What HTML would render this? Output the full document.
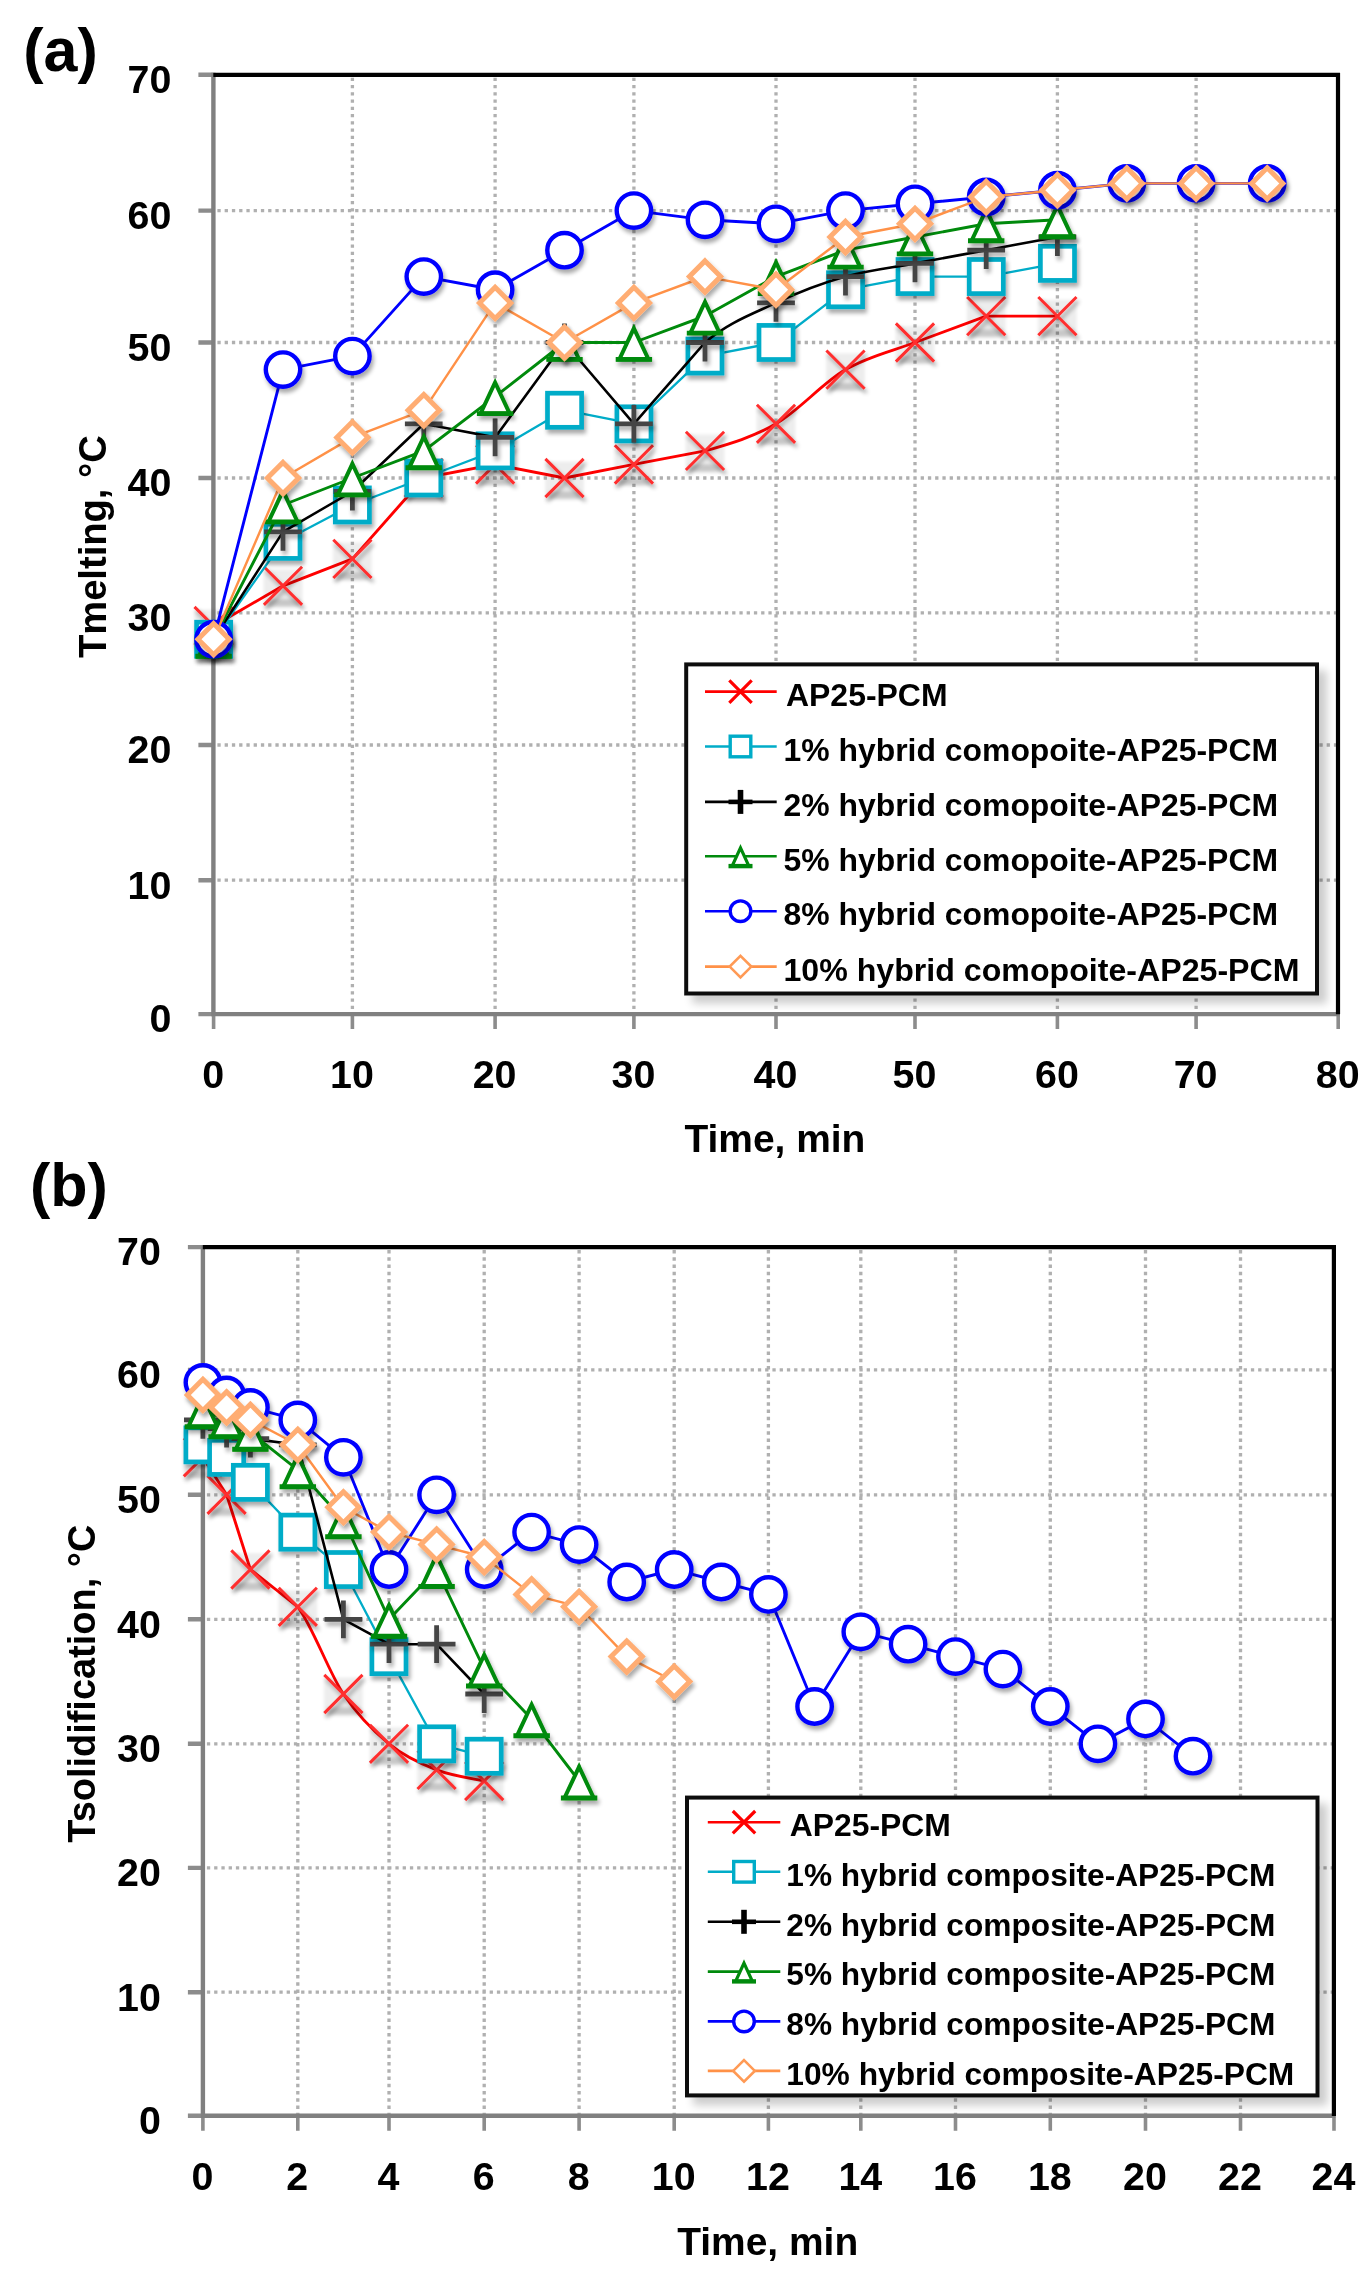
<!DOCTYPE html>
<html><head><meta charset="utf-8"><title>Tmelting and Tsolidification vs time</title>
<style>
html,body{margin:0;padding:0;background:#fff;}
body{width:1371px;height:2281px;overflow:hidden;font-family:"Liberation Sans", sans-serif;}
svg{display:block;}
text{font-family:"Liberation Sans", sans-serif;font-weight:bold;fill:#000;}
.tk{font-size:39.4px;}
.tt{font-size:39px;}
.lg{font-size:31.3px;}
.tag{font-size:61px;}
</style></head>
<body>
<svg width="1371" height="2281" viewBox="0 0 1371 2281">
<defs>
<filter id="msh" x="-5%" y="-5%" width="110%" height="110%" filterUnits="objectBoundingBox">
<feGaussianBlur in="SourceAlpha" stdDeviation="2" result="b"/>
<feOffset in="b" dx="1.5" dy="4.2" result="o"/>
<feComponentTransfer in="o" result="s"><feFuncA type="linear" slope="0.34"/></feComponentTransfer>
<feMerge><feMergeNode in="s"/><feMergeNode in="SourceGraphic"/></feMerge>
</filter>
<filter id="lsh" x="-5%" y="-5%" width="112%" height="115%">
<feGaussianBlur in="SourceAlpha" stdDeviation="4" result="b"/>
<feOffset in="b" dx="8" dy="8" result="o"/>
<feComponentTransfer in="o" result="s"><feFuncA type="linear" slope="0.2"/></feComponentTransfer>
<feMerge><feMergeNode in="s"/><feMergeNode in="SourceGraphic"/></feMerge>
</filter>
<filter id="blur2"><feGaussianBlur stdDeviation="1.8"/></filter>
<filter id="soft" filterUnits="userSpaceOnUse" x="0" y="0" width="1371" height="2281"><feGaussianBlur stdDeviation="0.6"/></filter>
</defs>
<rect width="1371" height="2281" fill="#fff"/>
<g filter="url(#soft)">
<rect width="1371" height="2281" fill="#fff"/>
<g id="chart-a">
<path d="M217.4 880.2H1338.0M217.4 745.0H1338.0M217.4 612.8H1338.0M217.4 478.0H1338.0M217.4 342.5H1338.0M217.4 210.6H1338.0M352.4 77.8V1014.1M495.1 77.8V1014.1M633.9 77.8V1014.1M776.0 77.8V1014.1M915.0 77.8V1014.1M1057.4 77.8V1014.1M1196.1 77.8V1014.1" stroke="#b0b0b0" stroke-width="3.3" stroke-dasharray="3.3 3.95" fill="none"/>
<path d="M198.4 1014.1H213.4M198.4 880.2H213.4M198.4 745.0H213.4M198.4 478.0H213.4M198.4 342.5H213.4M198.4 210.6H213.4M198.4 74.8H213.4" stroke="#8c8c8c" stroke-width="4.4" fill="none"/>
<path d="M213.6 1014.1V1029.1M352.4 1014.1V1029.1M495.1 1014.1V1029.1M633.9 1014.1V1029.1M776.0 1014.1V1029.1M915.0 1014.1V1029.1M1057.4 1014.1V1029.1M1196.1 1014.1V1029.1M1338.2 1014.1V1029.1" stroke="#8c8c8c" stroke-width="3.6" fill="none"/>
<path d="M213.4 72.8V1016.3M211.4 1014.1H1339.5" stroke="#808080" stroke-width="4.4" fill="none"/>
<path d="M215.4 74.8H1338.0V1012.1" stroke="#000" stroke-width="4.2" fill="none" stroke-linejoin="miter" stroke-linecap="square"/>
<text x="171.4" y="1032.4" text-anchor="end" class="tk">0</text>
<text x="171.4" y="898.5" text-anchor="end" class="tk">10</text>
<text x="171.4" y="763.3" text-anchor="end" class="tk">20</text>
<text x="171.4" y="631.1" text-anchor="end" class="tk">30</text>
<text x="171.4" y="496.3" text-anchor="end" class="tk">40</text>
<text x="171.4" y="360.8" text-anchor="end" class="tk">50</text>
<text x="171.4" y="228.9" text-anchor="end" class="tk">60</text>
<text x="171.4" y="93.1" text-anchor="end" class="tk">70</text>
<text x="213.1" y="1088.1" text-anchor="middle" class="tk">0</text>
<text x="351.9" y="1088.1" text-anchor="middle" class="tk">10</text>
<text x="494.6" y="1088.1" text-anchor="middle" class="tk">20</text>
<text x="633.4" y="1088.1" text-anchor="middle" class="tk">30</text>
<text x="775.5" y="1088.1" text-anchor="middle" class="tk">40</text>
<text x="914.5" y="1088.1" text-anchor="middle" class="tk">50</text>
<text x="1056.9" y="1088.1" text-anchor="middle" class="tk">60</text>
<text x="1195.6" y="1088.1" text-anchor="middle" class="tk">70</text>
<text x="1337.7" y="1088.1" text-anchor="middle" class="tk">80</text>
<path d="M213.6 626.0L283.0 585.8L352.4 558.9L423.8 478.0L495.1 464.4L564.5 478.0L633.9 464.4L705.0 450.9 M705.0 450.9C728.6 444.1 752.6 437.4 776.0 423.8C799.4 410.2 822.3 383.2 845.5 369.6C868.7 356.1 891.5 351.4 915.0 342.5 M915.0 342.5L986.2 316.1L1057.4 316.1" fill="none" stroke="#ff0000" stroke-width="2.9" stroke-linejoin="round"/>
<g filter="url(#blur2)"><rect x="194.2" y="609.6" width="38.8" height="38.8" fill="#000" opacity="0.07"/><rect x="197.2" y="639.4" width="32.8" height="7" fill="#000" opacity="0.16"/><rect x="263.6" y="569.4" width="38.8" height="38.8" fill="#000" opacity="0.07"/><rect x="266.6" y="599.2" width="32.8" height="7" fill="#000" opacity="0.16"/><rect x="333.0" y="542.5" width="38.8" height="38.8" fill="#000" opacity="0.07"/><rect x="336.0" y="572.3" width="32.8" height="7" fill="#000" opacity="0.16"/><rect x="404.4" y="461.6" width="38.8" height="38.8" fill="#000" opacity="0.07"/><rect x="407.4" y="491.4" width="32.8" height="7" fill="#000" opacity="0.16"/><rect x="475.7" y="448.1" width="38.8" height="38.8" fill="#000" opacity="0.07"/><rect x="478.7" y="477.8" width="32.8" height="7" fill="#000" opacity="0.16"/><rect x="545.1" y="461.6" width="38.8" height="38.8" fill="#000" opacity="0.07"/><rect x="548.1" y="491.4" width="32.8" height="7" fill="#000" opacity="0.16"/><rect x="614.5" y="448.1" width="38.8" height="38.8" fill="#000" opacity="0.07"/><rect x="617.5" y="477.8" width="32.8" height="7" fill="#000" opacity="0.16"/><rect x="685.6" y="434.5" width="38.8" height="38.8" fill="#000" opacity="0.07"/><rect x="688.6" y="464.3" width="32.8" height="7" fill="#000" opacity="0.16"/><rect x="756.6" y="407.4" width="38.8" height="38.8" fill="#000" opacity="0.07"/><rect x="759.6" y="437.2" width="32.8" height="7" fill="#000" opacity="0.16"/><rect x="826.1" y="353.2" width="38.8" height="38.8" fill="#000" opacity="0.07"/><rect x="829.1" y="383.0" width="32.8" height="7" fill="#000" opacity="0.16"/><rect x="895.6" y="326.1" width="38.8" height="38.8" fill="#000" opacity="0.07"/><rect x="898.6" y="355.9" width="32.8" height="7" fill="#000" opacity="0.16"/><rect x="966.8" y="299.7" width="38.8" height="38.8" fill="#000" opacity="0.07"/><rect x="969.8" y="329.5" width="32.8" height="7" fill="#000" opacity="0.16"/><rect x="1038.0" y="299.7" width="38.8" height="38.8" fill="#000" opacity="0.07"/><rect x="1041.0" y="329.5" width="32.8" height="7" fill="#000" opacity="0.16"/></g>
<g filter="url(#msh)"><path d="M194.5 606.9L232.7 645.1M194.5 645.1L232.7 606.9" fill="none" stroke="#ff2e2e" stroke-width="3.00"/><path d="M263.9 566.7L302.1 604.9M263.9 604.9L302.1 566.7" fill="none" stroke="#ff2e2e" stroke-width="3.00"/><path d="M333.3 539.8L371.5 578.0M333.3 578.0L371.5 539.8" fill="none" stroke="#ff2e2e" stroke-width="3.00"/><path d="M404.6 458.9L442.9 497.1M404.6 497.1L442.9 458.9" fill="none" stroke="#ff2e2e" stroke-width="3.00"/><path d="M476.0 445.3L514.2 483.6M476.0 483.6L514.2 445.3" fill="none" stroke="#ff2e2e" stroke-width="3.00"/><path d="M545.4 458.9L583.6 497.1M545.4 497.1L583.6 458.9" fill="none" stroke="#ff2e2e" stroke-width="3.00"/><path d="M614.8 445.3L653.0 483.6M614.8 483.6L653.0 445.3" fill="none" stroke="#ff2e2e" stroke-width="3.00"/><path d="M685.9 431.8L724.1 470.0M685.9 470.0L724.1 431.8" fill="none" stroke="#ff2e2e" stroke-width="3.00"/><path d="M756.9 404.7L795.1 442.9M756.9 442.9L795.1 404.7" fill="none" stroke="#ff2e2e" stroke-width="3.00"/><path d="M826.4 350.5L864.6 388.7M826.4 388.7L864.6 350.5" fill="none" stroke="#ff2e2e" stroke-width="3.00"/><path d="M895.9 323.4L934.1 361.6M895.9 361.6L934.1 323.4" fill="none" stroke="#ff2e2e" stroke-width="3.00"/><path d="M967.1 297.0L1005.3 335.2M967.1 335.2L1005.3 297.0" fill="none" stroke="#ff2e2e" stroke-width="3.00"/><path d="M1038.3 297.0L1076.5 335.2M1038.3 335.2L1076.5 297.0" fill="none" stroke="#ff2e2e" stroke-width="3.00"/></g>
<path d="M213.6 639.2L283.0 541.4L352.4 505.0L423.8 478.0L495.1 450.9L564.5 410.2L633.9 423.8L705.0 356.1L776.0 342.5L845.5 289.7L915.0 276.6L986.2 276.6L1057.4 263.4" fill="none" stroke="#00acc8" stroke-width="2.3" stroke-linejoin="round"/>
<g filter="url(#msh)"><rect x="196.6" y="622.2" width="34.1" height="34.1" fill="#fff" stroke="#00acc8" stroke-width="4.70"/><rect x="265.9" y="524.3" width="34.1" height="34.1" fill="#fff" stroke="#00acc8" stroke-width="4.70"/><rect x="335.3" y="487.9" width="34.1" height="34.1" fill="#fff" stroke="#00acc8" stroke-width="4.70"/><rect x="406.7" y="460.9" width="34.1" height="34.1" fill="#fff" stroke="#00acc8" stroke-width="4.70"/><rect x="478.1" y="433.8" width="34.1" height="34.1" fill="#fff" stroke="#00acc8" stroke-width="4.70"/><rect x="547.5" y="393.2" width="34.1" height="34.1" fill="#fff" stroke="#00acc8" stroke-width="4.70"/><rect x="616.9" y="406.8" width="34.1" height="34.1" fill="#fff" stroke="#00acc8" stroke-width="4.70"/><rect x="687.9" y="339.0" width="34.1" height="34.1" fill="#fff" stroke="#00acc8" stroke-width="4.70"/><rect x="759.0" y="325.4" width="34.1" height="34.1" fill="#fff" stroke="#00acc8" stroke-width="4.70"/><rect x="828.5" y="272.7" width="34.1" height="34.1" fill="#fff" stroke="#00acc8" stroke-width="4.70"/><rect x="898.0" y="259.5" width="34.1" height="34.1" fill="#fff" stroke="#00acc8" stroke-width="4.70"/><rect x="969.2" y="259.5" width="34.1" height="34.1" fill="#fff" stroke="#00acc8" stroke-width="4.70"/><rect x="1040.4" y="246.3" width="34.1" height="34.1" fill="#fff" stroke="#00acc8" stroke-width="4.70"/></g>
<path d="M213.6 639.2L283.0 531.9L352.4 491.5L423.8 423.8L495.1 437.4L564.5 342.5L633.9 423.8L705.0 342.5 M705.0 342.5C728.6 322.4 752.6 313.9 776.0 302.9C799.4 291.9 822.3 283.1 845.5 276.6C868.7 270.0 891.5 267.8 915.0 263.4C938.5 259.0 962.5 254.6 986.2 250.2C1009.9 245.8 1045.5 239.2 1057.4 237.0" fill="none" stroke="#000000" stroke-width="2.6" stroke-linejoin="round"/>
<g filter="url(#msh)"><path d="M194.7 639.2L232.5 639.2M213.6 620.3L213.6 658.1" fill="none" stroke="#454545" stroke-width="4.80"/><path d="M264.1 531.9L301.9 531.9M283.0 513.0L283.0 550.8" fill="none" stroke="#454545" stroke-width="4.80"/><path d="M333.5 491.5L371.3 491.5M352.4 472.6L352.4 510.4" fill="none" stroke="#454545" stroke-width="4.80"/><path d="M404.9 423.8L442.6 423.8M423.8 404.9L423.8 442.7" fill="none" stroke="#454545" stroke-width="4.80"/><path d="M476.2 437.4L514.0 437.4M495.1 418.5L495.1 456.2" fill="none" stroke="#454545" stroke-width="4.80"/><path d="M545.6 342.5L583.4 342.5M564.5 323.6L564.5 361.4" fill="none" stroke="#454545" stroke-width="4.80"/><path d="M615.0 423.8L652.8 423.8M633.9 404.9L633.9 442.7" fill="none" stroke="#454545" stroke-width="4.80"/><path d="M686.1 342.5L723.9 342.5M705.0 323.6L705.0 361.4" fill="none" stroke="#454545" stroke-width="4.80"/><path d="M757.1 302.9L794.9 302.9M776.0 284.0L776.0 321.8" fill="none" stroke="#454545" stroke-width="4.80"/><path d="M826.6 276.6L864.4 276.6M845.5 257.7L845.5 295.4" fill="none" stroke="#454545" stroke-width="4.80"/><path d="M896.1 263.4L933.9 263.4M915.0 244.5L915.0 282.3" fill="none" stroke="#454545" stroke-width="4.80"/><path d="M967.3 250.2L1005.1 250.2M986.2 231.3L986.2 269.1" fill="none" stroke="#454545" stroke-width="4.80"/><path d="M1038.5 237.0L1076.3 237.0M1057.4 218.1L1057.4 255.9" fill="none" stroke="#454545" stroke-width="4.80"/></g>
<path d="M213.6 639.2L283.0 505.0L352.4 478.0L423.8 450.9L495.1 396.7L564.5 342.5L633.9 342.5L705.0 316.1L776.0 276.6L845.5 250.2L915.0 237.0L986.2 223.8L1057.4 219.8" fill="none" stroke="#008a08" stroke-width="2.9" stroke-linejoin="round"/>
<g filter="url(#msh)"><path d="M213.6 625.0L228.2 656.2L199.0 656.2Z" fill="#fff" stroke="#008a08" stroke-width="4.00" stroke-linejoin="miter"/><path d="M195.4 656.2H231.8" stroke="#008a08" stroke-width="4.90" fill="none"/><path d="M283.0 490.8L297.6 521.9L268.4 521.9Z" fill="#fff" stroke="#008a08" stroke-width="4.00" stroke-linejoin="miter"/><path d="M264.8 521.9H301.2" stroke="#008a08" stroke-width="4.90" fill="none"/><path d="M352.4 463.8L367.0 494.9L337.8 494.9Z" fill="#fff" stroke="#008a08" stroke-width="4.00" stroke-linejoin="miter"/><path d="M334.2 494.9H370.6" stroke="#008a08" stroke-width="4.90" fill="none"/><path d="M423.8 436.7L438.3 467.8L409.2 467.8Z" fill="#fff" stroke="#008a08" stroke-width="4.00" stroke-linejoin="miter"/><path d="M405.6 467.8H441.9" stroke="#008a08" stroke-width="4.90" fill="none"/><path d="M495.1 382.5L509.7 413.6L480.5 413.6Z" fill="#fff" stroke="#008a08" stroke-width="4.00" stroke-linejoin="miter"/><path d="M476.9 413.6H513.3" stroke="#008a08" stroke-width="4.90" fill="none"/><path d="M564.5 328.3L579.1 359.4L549.9 359.4Z" fill="#fff" stroke="#008a08" stroke-width="4.00" stroke-linejoin="miter"/><path d="M546.3 359.4H582.7" stroke="#008a08" stroke-width="4.90" fill="none"/><path d="M633.9 328.3L648.5 359.4L619.3 359.4Z" fill="#fff" stroke="#008a08" stroke-width="4.00" stroke-linejoin="miter"/><path d="M615.7 359.4H652.1" stroke="#008a08" stroke-width="4.90" fill="none"/><path d="M705.0 301.9L719.6 333.1L690.4 333.1Z" fill="#fff" stroke="#008a08" stroke-width="4.00" stroke-linejoin="miter"/><path d="M686.8 333.1H723.2" stroke="#008a08" stroke-width="4.90" fill="none"/><path d="M776.0 262.4L790.6 293.5L761.4 293.5Z" fill="#fff" stroke="#008a08" stroke-width="4.00" stroke-linejoin="miter"/><path d="M757.8 293.5H794.2" stroke="#008a08" stroke-width="4.90" fill="none"/><path d="M845.5 236.0L860.1 267.1L830.9 267.1Z" fill="#fff" stroke="#008a08" stroke-width="4.00" stroke-linejoin="miter"/><path d="M827.3 267.1H863.7" stroke="#008a08" stroke-width="4.90" fill="none"/><path d="M915.0 222.8L929.6 253.9L900.4 253.9Z" fill="#fff" stroke="#008a08" stroke-width="4.00" stroke-linejoin="miter"/><path d="M896.8 253.9H933.2" stroke="#008a08" stroke-width="4.90" fill="none"/><path d="M986.2 209.6L1000.8 240.7L971.6 240.7Z" fill="#fff" stroke="#008a08" stroke-width="4.00" stroke-linejoin="miter"/><path d="M968.0 240.7H1004.4" stroke="#008a08" stroke-width="4.90" fill="none"/><path d="M1057.4 205.6L1072.0 236.8L1042.8 236.8Z" fill="#fff" stroke="#008a08" stroke-width="4.00" stroke-linejoin="miter"/><path d="M1039.2 236.8H1075.6" stroke="#008a08" stroke-width="4.90" fill="none"/></g>
<path d="M213.6 639.2L283.0 369.6L352.4 356.1L423.8 276.6L495.1 289.7L564.5 250.2L633.9 210.6L705.0 219.8L776.0 223.8L845.5 210.6L915.0 203.8L986.2 197.0L1057.4 190.2L1126.8 183.4L1196.1 183.4L1267.2 183.4" fill="none" stroke="#0000ff" stroke-width="2.9" stroke-linejoin="round"/>
<g filter="url(#msh)"><circle cx="213.6" cy="639.2" r="17.20" fill="#fff" stroke="#0000ff" stroke-width="4.40"/><circle cx="283.0" cy="369.6" r="17.20" fill="#fff" stroke="#0000ff" stroke-width="4.40"/><circle cx="352.4" cy="356.1" r="17.20" fill="#fff" stroke="#0000ff" stroke-width="4.40"/><circle cx="423.8" cy="276.6" r="17.20" fill="#fff" stroke="#0000ff" stroke-width="4.40"/><circle cx="495.1" cy="289.7" r="17.20" fill="#fff" stroke="#0000ff" stroke-width="4.40"/><circle cx="564.5" cy="250.2" r="17.20" fill="#fff" stroke="#0000ff" stroke-width="4.40"/><circle cx="633.9" cy="210.6" r="17.20" fill="#fff" stroke="#0000ff" stroke-width="4.40"/><circle cx="705.0" cy="219.8" r="17.20" fill="#fff" stroke="#0000ff" stroke-width="4.40"/><circle cx="776.0" cy="223.8" r="17.20" fill="#fff" stroke="#0000ff" stroke-width="4.40"/><circle cx="845.5" cy="210.6" r="17.20" fill="#fff" stroke="#0000ff" stroke-width="4.40"/><circle cx="915.0" cy="203.8" r="17.20" fill="#fff" stroke="#0000ff" stroke-width="4.40"/><circle cx="986.2" cy="197.0" r="17.20" fill="#fff" stroke="#0000ff" stroke-width="4.40"/><circle cx="1057.4" cy="190.2" r="17.20" fill="#fff" stroke="#0000ff" stroke-width="4.40"/><circle cx="1126.8" cy="183.4" r="17.20" fill="#fff" stroke="#0000ff" stroke-width="4.40"/><circle cx="1196.1" cy="183.4" r="17.20" fill="#fff" stroke="#0000ff" stroke-width="4.40"/><circle cx="1267.2" cy="183.4" r="17.20" fill="#fff" stroke="#0000ff" stroke-width="4.40"/></g>
<path d="M213.6 639.2L283.0 478.0L352.4 437.4L423.8 410.2L495.1 302.9L564.5 342.5L633.9 302.9L705.0 276.6L776.0 289.7L845.5 237.0L915.0 223.8L986.2 197.0L1057.4 190.2L1126.8 183.4L1196.1 183.4L1267.2 183.4" fill="none" stroke="#ff9147" stroke-width="2.4" stroke-linejoin="round"/>
<g filter="url(#msh)"><path d="M213.6 623.6L229.2 639.2L213.6 654.8L198.0 639.2Z" fill="#fff" stroke="#ffad73" stroke-width="5.00" stroke-linejoin="miter"/><path d="M283.0 462.4L298.6 478.0L283.0 493.6L267.4 478.0Z" fill="#fff" stroke="#ffad73" stroke-width="5.00" stroke-linejoin="miter"/><path d="M352.4 421.8L368.0 437.4L352.4 453.0L336.8 437.4Z" fill="#fff" stroke="#ffad73" stroke-width="5.00" stroke-linejoin="miter"/><path d="M423.8 394.6L439.4 410.2L423.8 425.9L408.1 410.2Z" fill="#fff" stroke="#ffad73" stroke-width="5.00" stroke-linejoin="miter"/><path d="M495.1 287.3L510.7 302.9L495.1 318.5L479.5 302.9Z" fill="#fff" stroke="#ffad73" stroke-width="5.00" stroke-linejoin="miter"/><path d="M564.5 326.9L580.1 342.5L564.5 358.1L548.9 342.5Z" fill="#fff" stroke="#ffad73" stroke-width="5.00" stroke-linejoin="miter"/><path d="M633.9 287.3L649.5 302.9L633.9 318.5L618.3 302.9Z" fill="#fff" stroke="#ffad73" stroke-width="5.00" stroke-linejoin="miter"/><path d="M705.0 260.9L720.6 276.6L705.0 292.2L689.4 276.6Z" fill="#fff" stroke="#ffad73" stroke-width="5.00" stroke-linejoin="miter"/><path d="M776.0 274.1L791.6 289.7L776.0 305.3L760.4 289.7Z" fill="#fff" stroke="#ffad73" stroke-width="5.00" stroke-linejoin="miter"/><path d="M845.5 221.4L861.1 237.0L845.5 252.6L829.9 237.0Z" fill="#fff" stroke="#ffad73" stroke-width="5.00" stroke-linejoin="miter"/><path d="M915.0 208.2L930.6 223.8L915.0 239.4L899.4 223.8Z" fill="#fff" stroke="#ffad73" stroke-width="5.00" stroke-linejoin="miter"/><path d="M986.2 181.4L1001.8 197.0L986.2 212.6L970.6 197.0Z" fill="#fff" stroke="#ffad73" stroke-width="5.00" stroke-linejoin="miter"/><path d="M1057.4 174.6L1073.0 190.2L1057.4 205.8L1041.8 190.2Z" fill="#fff" stroke="#ffad73" stroke-width="5.00" stroke-linejoin="miter"/><path d="M1126.8 167.8L1142.3 183.4L1126.8 199.0L1111.2 183.4Z" fill="#fff" stroke="#ffad73" stroke-width="5.00" stroke-linejoin="miter"/><path d="M1196.1 167.8L1211.7 183.4L1196.1 199.0L1180.5 183.4Z" fill="#fff" stroke="#ffad73" stroke-width="5.00" stroke-linejoin="miter"/><path d="M1267.2 167.8L1282.8 183.4L1267.2 199.0L1251.6 183.4Z" fill="#fff" stroke="#ffad73" stroke-width="5.00" stroke-linejoin="miter"/></g>
<rect x="686.2" y="664.4" width="630.8" height="329.1" fill="#fff" stroke="#111" stroke-width="4" filter="url(#lsh)"/>
<path d="M705.0 691.6H776.7" stroke="#ff0000" stroke-width="2.6" fill="none"/>
<path d="M729.3 680.4L751.7 702.8M729.3 702.8L751.7 680.4" fill="none" stroke="#ff0000" stroke-width="3.2"/>
<text x="786.0" y="705.8" class="lg" textLength="161.5" lengthAdjust="spacingAndGlyphs">AP25-PCM</text>
<path d="M705.0 746.5H776.7" stroke="#00acc8" stroke-width="2.6" fill="none"/>
<rect x="730.2" y="736.2" width="20.6" height="20.6" fill="#fff" stroke="#00acc8" stroke-width="3.4"/>
<text x="783.5" y="760.7" class="lg" textLength="494.5" lengthAdjust="spacingAndGlyphs">1% hybrid comopoite-AP25-PCM</text>
<path d="M705.0 801.9H776.7" stroke="#000000" stroke-width="2.6" fill="none"/>
<path d="M728.5 801.9H752.5" fill="none" stroke="#000000" stroke-width="4.6"/><path d="M740.5 789.9V813.9" fill="none" stroke="#000000" stroke-width="5.6"/>
<text x="783.5" y="816.1" class="lg" textLength="494.5" lengthAdjust="spacingAndGlyphs">2% hybrid comopoite-AP25-PCM</text>
<path d="M705.0 856.3H776.7" stroke="#008a08" stroke-width="2.6" fill="none"/>
<path d="M740.5 847.8L748.9 866.1L732.1 866.1Z" fill="#fff" stroke="#008a08" stroke-width="3.2" stroke-linejoin="miter"/><path d="M728.5 866.1H752.5" stroke="#008a08" stroke-width="4.4" fill="none"/>
<text x="783.5" y="870.5" class="lg" textLength="494.5" lengthAdjust="spacingAndGlyphs">5% hybrid comopoite-AP25-PCM</text>
<path d="M705.0 911.2H776.7" stroke="#0000ff" stroke-width="2.6" fill="none"/>
<circle cx="740.5" cy="911.2" r="10.30" fill="#fff" stroke="#0000ff" stroke-width="3.4"/>
<text x="783.5" y="925.4" class="lg" textLength="494.5" lengthAdjust="spacingAndGlyphs">8% hybrid comopoite-AP25-PCM</text>
<path d="M705.0 966.6H776.7" stroke="#ff9147" stroke-width="2.6" fill="none"/>
<path d="M740.5 955.8L751.3 966.6L740.5 977.4L729.7 966.6Z" fill="#fff" stroke="#ff9a55" stroke-width="2.6"/>
<text x="783.5" y="980.8" class="lg" textLength="516.0" lengthAdjust="spacingAndGlyphs">10% hybrid comopoite-AP25-PCM</text>
<text x="684.4" y="1151.5" class="tt" textLength="181" lengthAdjust="spacingAndGlyphs">Time, min</text>
<text transform="translate(105.6 546.6) rotate(-90)" text-anchor="middle" class="tt" textLength="223" lengthAdjust="spacingAndGlyphs">Tmelting, °C</text>
<text x="23.2" y="71.0" class="tag">(a)</text>
</g>
<g id="chart-b">
<path d="M206.9 1992.2H1333.9M206.9 1867.9H1333.9M206.9 1743.8H1333.9M206.9 1619.3H1333.9M206.9 1494.8H1333.9M206.9 1369.9H1333.9M297.8 1250.1V2115.8M389.0 1250.1V2115.8M484.2 1250.1V2115.8M579.1 1250.1V2115.8M674.2 1250.1V2115.8M768.4 1250.1V2115.8M860.8 1250.1V2115.8M955.5 1250.1V2115.8M1050.3 1250.1V2115.8M1145.5 1250.1V2115.8M1240.5 1250.1V2115.8" stroke="#b0b0b0" stroke-width="3.3" stroke-dasharray="3.3 3.95" fill="none"/>
<path d="M187.9 2115.8H202.9M187.9 1992.2H202.9M187.9 1867.9H202.9M187.9 1743.8H202.9M187.9 1619.3H202.9M187.9 1494.8H202.9M187.9 1369.9H202.9M187.9 1247.1H202.9" stroke="#8c8c8c" stroke-width="4.4" fill="none"/>
<path d="M202.9 2115.8V2130.8M297.8 2115.8V2130.8M389.0 2115.8V2130.8M484.2 2115.8V2130.8M579.1 2115.8V2130.8M674.2 2115.8V2130.8M768.4 2115.8V2130.8M860.8 2115.8V2130.8M955.5 2115.8V2130.8M1050.3 2115.8V2130.8M1145.5 2115.8V2130.8M1240.5 2115.8V2130.8M1334.0 2115.8V2130.8" stroke="#8c8c8c" stroke-width="3.6" fill="none"/>
<path d="M202.9 1245.1V2118.0M200.9 2115.8H1335.4" stroke="#808080" stroke-width="4.4" fill="none"/>
<path d="M204.9 1247.1H1333.9V2113.8" stroke="#000" stroke-width="4.2" fill="none" stroke-linejoin="miter" stroke-linecap="square"/>
<text x="160.9" y="2134.1" text-anchor="end" class="tk">0</text>
<text x="160.9" y="2010.5" text-anchor="end" class="tk">10</text>
<text x="160.9" y="1886.2" text-anchor="end" class="tk">20</text>
<text x="160.9" y="1762.1" text-anchor="end" class="tk">30</text>
<text x="160.9" y="1637.6" text-anchor="end" class="tk">40</text>
<text x="160.9" y="1513.1" text-anchor="end" class="tk">50</text>
<text x="160.9" y="1388.2" text-anchor="end" class="tk">60</text>
<text x="160.9" y="1265.4" text-anchor="end" class="tk">70</text>
<text x="202.4" y="2189.8" text-anchor="middle" class="tk">0</text>
<text x="297.3" y="2189.8" text-anchor="middle" class="tk">2</text>
<text x="388.5" y="2189.8" text-anchor="middle" class="tk">4</text>
<text x="483.7" y="2189.8" text-anchor="middle" class="tk">6</text>
<text x="578.6" y="2189.8" text-anchor="middle" class="tk">8</text>
<text x="673.7" y="2189.8" text-anchor="middle" class="tk">10</text>
<text x="767.9" y="2189.8" text-anchor="middle" class="tk">12</text>
<text x="860.3" y="2189.8" text-anchor="middle" class="tk">14</text>
<text x="955.0" y="2189.8" text-anchor="middle" class="tk">16</text>
<text x="1049.8" y="2189.8" text-anchor="middle" class="tk">18</text>
<text x="1145.0" y="2189.8" text-anchor="middle" class="tk">20</text>
<text x="1240.0" y="2189.8" text-anchor="middle" class="tk">22</text>
<text x="1333.5" y="2189.8" text-anchor="middle" class="tk">24</text>
<path d="M202.9 1457.3L226.6 1494.8L250.4 1569.5L297.8 1606.8 M297.8 1606.8C313.3 1627.6 328.2 1671.2 343.4 1694.0C358.6 1716.8 373.5 1731.2 389.0 1743.8C404.5 1756.4 420.7 1763.7 436.6 1769.9C452.5 1776.1 476.3 1779.2 484.2 1781.0" fill="none" stroke="#ff0000" stroke-width="2.9" stroke-linejoin="round"/>
<g filter="url(#blur2)"><rect x="183.5" y="1440.9" width="38.8" height="38.8" fill="#000" opacity="0.07"/><rect x="186.5" y="1470.7" width="32.8" height="7" fill="#000" opacity="0.16"/><rect x="207.2" y="1478.4" width="38.8" height="38.8" fill="#000" opacity="0.07"/><rect x="210.2" y="1508.2" width="32.8" height="7" fill="#000" opacity="0.16"/><rect x="231.0" y="1553.1" width="38.8" height="38.8" fill="#000" opacity="0.07"/><rect x="234.0" y="1582.9" width="32.8" height="7" fill="#000" opacity="0.16"/><rect x="278.4" y="1590.4" width="38.8" height="38.8" fill="#000" opacity="0.07"/><rect x="281.4" y="1620.2" width="32.8" height="7" fill="#000" opacity="0.16"/><rect x="324.0" y="1677.6" width="38.8" height="38.8" fill="#000" opacity="0.07"/><rect x="327.0" y="1707.4" width="32.8" height="7" fill="#000" opacity="0.16"/><rect x="369.6" y="1727.4" width="38.8" height="38.8" fill="#000" opacity="0.07"/><rect x="372.6" y="1757.2" width="32.8" height="7" fill="#000" opacity="0.16"/><rect x="417.2" y="1753.5" width="38.8" height="38.8" fill="#000" opacity="0.07"/><rect x="420.2" y="1783.3" width="32.8" height="7" fill="#000" opacity="0.16"/><rect x="464.8" y="1764.6" width="38.8" height="38.8" fill="#000" opacity="0.07"/><rect x="467.8" y="1794.4" width="32.8" height="7" fill="#000" opacity="0.16"/></g>
<g filter="url(#msh)"><path d="M183.8 1438.2L222.0 1476.4M183.8 1476.4L222.0 1438.2" fill="none" stroke="#ff2e2e" stroke-width="3.00"/><path d="M207.5 1475.7L245.7 1513.9M207.5 1513.9L245.7 1475.7" fill="none" stroke="#ff2e2e" stroke-width="3.00"/><path d="M231.3 1550.4L269.5 1588.6M231.3 1588.6L269.5 1550.4" fill="none" stroke="#ff2e2e" stroke-width="3.00"/><path d="M278.7 1587.8L316.9 1625.9M278.7 1625.9L316.9 1587.8" fill="none" stroke="#ff2e2e" stroke-width="3.00"/><path d="M324.3 1674.9L362.5 1713.1M324.3 1713.1L362.5 1674.9" fill="none" stroke="#ff2e2e" stroke-width="3.00"/><path d="M369.9 1724.7L408.1 1762.9M369.9 1762.9L408.1 1724.7" fill="none" stroke="#ff2e2e" stroke-width="3.00"/><path d="M417.5 1750.8L455.7 1789.0M417.5 1789.0L455.7 1750.8" fill="none" stroke="#ff2e2e" stroke-width="3.00"/><path d="M465.1 1761.9L503.3 1800.1M465.1 1800.1L503.3 1761.9" fill="none" stroke="#ff2e2e" stroke-width="3.00"/></g>
<path d="M202.9 1444.8L226.6 1457.3L250.4 1482.3L297.8 1532.1L343.4 1569.5L389.0 1656.6L436.6 1743.8L484.2 1756.2" fill="none" stroke="#00acc8" stroke-width="2.3" stroke-linejoin="round"/>
<g filter="url(#msh)"><rect x="185.9" y="1427.8" width="34.1" height="34.1" fill="#fff" stroke="#00acc8" stroke-width="4.70"/><rect x="209.6" y="1440.3" width="34.1" height="34.1" fill="#fff" stroke="#00acc8" stroke-width="4.70"/><rect x="233.3" y="1465.3" width="34.1" height="34.1" fill="#fff" stroke="#00acc8" stroke-width="4.70"/><rect x="280.8" y="1515.1" width="34.1" height="34.1" fill="#fff" stroke="#00acc8" stroke-width="4.70"/><rect x="326.3" y="1552.5" width="34.1" height="34.1" fill="#fff" stroke="#00acc8" stroke-width="4.70"/><rect x="371.9" y="1639.6" width="34.1" height="34.1" fill="#fff" stroke="#00acc8" stroke-width="4.70"/><rect x="419.6" y="1726.8" width="34.1" height="34.1" fill="#fff" stroke="#00acc8" stroke-width="4.70"/><rect x="467.1" y="1739.2" width="34.1" height="34.1" fill="#fff" stroke="#00acc8" stroke-width="4.70"/></g>
<path d="M202.9 1419.9L226.6 1428.6L250.4 1438.6L297.8 1444.8L343.4 1619.3L389.0 1644.2L436.6 1644.2L484.2 1694.0" fill="none" stroke="#000000" stroke-width="2.6" stroke-linejoin="round"/>
<g filter="url(#msh)"><path d="M184.0 1419.9L221.8 1419.9M202.9 1401.0L202.9 1438.8" fill="none" stroke="#454545" stroke-width="4.80"/><path d="M207.7 1428.6L245.5 1428.6M226.6 1409.7L226.6 1447.5" fill="none" stroke="#454545" stroke-width="4.80"/><path d="M231.5 1438.6L269.2 1438.6M250.4 1419.7L250.4 1457.5" fill="none" stroke="#454545" stroke-width="4.80"/><path d="M278.9 1444.8L316.7 1444.8M297.8 1425.9L297.8 1463.7" fill="none" stroke="#454545" stroke-width="4.80"/><path d="M324.5 1619.3L362.3 1619.3M343.4 1600.4L343.4 1638.2" fill="none" stroke="#454545" stroke-width="4.80"/><path d="M370.1 1644.2L407.9 1644.2M389.0 1625.3L389.0 1663.1" fill="none" stroke="#454545" stroke-width="4.80"/><path d="M417.7 1644.2L455.5 1644.2M436.6 1625.3L436.6 1663.1" fill="none" stroke="#454545" stroke-width="4.80"/><path d="M465.3 1694.0L503.1 1694.0M484.2 1675.1L484.2 1712.9" fill="none" stroke="#454545" stroke-width="4.80"/></g>
<path d="M202.9 1409.9L226.6 1419.9L250.4 1432.3L297.8 1469.8L343.4 1519.7L389.0 1619.3L436.6 1569.5L484.2 1669.1L531.6 1718.9L579.1 1781.0" fill="none" stroke="#008a08" stroke-width="2.9" stroke-linejoin="round"/>
<g filter="url(#msh)"><path d="M202.9 1395.7L217.5 1426.8L188.3 1426.8Z" fill="#fff" stroke="#008a08" stroke-width="4.00" stroke-linejoin="miter"/><path d="M184.7 1426.8H221.1" stroke="#008a08" stroke-width="4.90" fill="none"/><path d="M226.6 1405.7L241.2 1436.8L212.0 1436.8Z" fill="#fff" stroke="#008a08" stroke-width="4.00" stroke-linejoin="miter"/><path d="M208.4 1436.8H244.8" stroke="#008a08" stroke-width="4.90" fill="none"/><path d="M250.4 1418.1L264.9 1449.3L235.8 1449.3Z" fill="#fff" stroke="#008a08" stroke-width="4.00" stroke-linejoin="miter"/><path d="M232.2 1449.3H268.6" stroke="#008a08" stroke-width="4.90" fill="none"/><path d="M297.8 1455.6L312.4 1486.8L283.2 1486.8Z" fill="#fff" stroke="#008a08" stroke-width="4.00" stroke-linejoin="miter"/><path d="M279.6 1486.8H316.0" stroke="#008a08" stroke-width="4.90" fill="none"/><path d="M343.4 1505.5L358.0 1536.7L328.8 1536.7Z" fill="#fff" stroke="#008a08" stroke-width="4.00" stroke-linejoin="miter"/><path d="M325.2 1536.7H361.6" stroke="#008a08" stroke-width="4.90" fill="none"/><path d="M389.0 1605.1L403.6 1636.2L374.4 1636.2Z" fill="#fff" stroke="#008a08" stroke-width="4.00" stroke-linejoin="miter"/><path d="M370.8 1636.2H407.2" stroke="#008a08" stroke-width="4.90" fill="none"/><path d="M436.6 1555.3L451.2 1586.5L422.0 1586.5Z" fill="#fff" stroke="#008a08" stroke-width="4.00" stroke-linejoin="miter"/><path d="M418.4 1586.5H454.8" stroke="#008a08" stroke-width="4.90" fill="none"/><path d="M484.2 1654.9L498.8 1686.0L469.6 1686.0Z" fill="#fff" stroke="#008a08" stroke-width="4.00" stroke-linejoin="miter"/><path d="M466.0 1686.0H502.4" stroke="#008a08" stroke-width="4.90" fill="none"/><path d="M531.6 1704.7L546.2 1735.8L517.0 1735.8Z" fill="#fff" stroke="#008a08" stroke-width="4.00" stroke-linejoin="miter"/><path d="M513.4 1735.8H549.9" stroke="#008a08" stroke-width="4.90" fill="none"/><path d="M579.1 1766.8L593.7 1798.0L564.5 1798.0Z" fill="#fff" stroke="#008a08" stroke-width="4.00" stroke-linejoin="miter"/><path d="M560.9 1798.0H597.3" stroke="#008a08" stroke-width="4.90" fill="none"/></g>
<path d="M202.9 1382.4L226.6 1394.9L250.4 1407.4L297.8 1419.9L343.4 1457.3L389.0 1569.5L436.6 1494.8L484.2 1569.5L531.6 1532.1L579.1 1544.6L626.7 1582.0L674.2 1569.5L721.3 1582.0L768.4 1594.4L814.6 1706.5L860.8 1631.8L908.1 1644.2L955.5 1656.6L1002.9 1669.1L1050.3 1706.5L1097.9 1743.8L1145.5 1718.9L1193.0 1756.2" fill="none" stroke="#0000ff" stroke-width="2.9" stroke-linejoin="round"/>
<g filter="url(#msh)"><circle cx="202.9" cy="1382.4" r="17.20" fill="#fff" stroke="#0000ff" stroke-width="4.40"/><circle cx="226.6" cy="1394.9" r="17.20" fill="#fff" stroke="#0000ff" stroke-width="4.40"/><circle cx="250.4" cy="1407.4" r="17.20" fill="#fff" stroke="#0000ff" stroke-width="4.40"/><circle cx="297.8" cy="1419.9" r="17.20" fill="#fff" stroke="#0000ff" stroke-width="4.40"/><circle cx="343.4" cy="1457.3" r="17.20" fill="#fff" stroke="#0000ff" stroke-width="4.40"/><circle cx="389.0" cy="1569.5" r="17.20" fill="#fff" stroke="#0000ff" stroke-width="4.40"/><circle cx="436.6" cy="1494.8" r="17.20" fill="#fff" stroke="#0000ff" stroke-width="4.40"/><circle cx="484.2" cy="1569.5" r="17.20" fill="#fff" stroke="#0000ff" stroke-width="4.40"/><circle cx="531.6" cy="1532.1" r="17.20" fill="#fff" stroke="#0000ff" stroke-width="4.40"/><circle cx="579.1" cy="1544.6" r="17.20" fill="#fff" stroke="#0000ff" stroke-width="4.40"/><circle cx="626.7" cy="1582.0" r="17.20" fill="#fff" stroke="#0000ff" stroke-width="4.40"/><circle cx="674.2" cy="1569.5" r="17.20" fill="#fff" stroke="#0000ff" stroke-width="4.40"/><circle cx="721.3" cy="1582.0" r="17.20" fill="#fff" stroke="#0000ff" stroke-width="4.40"/><circle cx="768.4" cy="1594.4" r="17.20" fill="#fff" stroke="#0000ff" stroke-width="4.40"/><circle cx="814.6" cy="1706.5" r="17.20" fill="#fff" stroke="#0000ff" stroke-width="4.40"/><circle cx="860.8" cy="1631.8" r="17.20" fill="#fff" stroke="#0000ff" stroke-width="4.40"/><circle cx="908.1" cy="1644.2" r="17.20" fill="#fff" stroke="#0000ff" stroke-width="4.40"/><circle cx="955.5" cy="1656.6" r="17.20" fill="#fff" stroke="#0000ff" stroke-width="4.40"/><circle cx="1002.9" cy="1669.1" r="17.20" fill="#fff" stroke="#0000ff" stroke-width="4.40"/><circle cx="1050.3" cy="1706.5" r="17.20" fill="#fff" stroke="#0000ff" stroke-width="4.40"/><circle cx="1097.9" cy="1743.8" r="17.20" fill="#fff" stroke="#0000ff" stroke-width="4.40"/><circle cx="1145.5" cy="1718.9" r="17.20" fill="#fff" stroke="#0000ff" stroke-width="4.40"/><circle cx="1193.0" cy="1756.2" r="17.20" fill="#fff" stroke="#0000ff" stroke-width="4.40"/></g>
<path d="M202.9 1394.9L226.6 1407.4L250.4 1419.9L297.8 1444.8L343.4 1507.2L389.0 1532.1L436.6 1544.6L484.2 1557.0L531.6 1594.4L579.1 1606.8L626.7 1656.6L674.2 1681.5" fill="none" stroke="#ff9147" stroke-width="2.4" stroke-linejoin="round"/>
<g filter="url(#msh)"><path d="M202.9 1379.3L218.5 1394.9L202.9 1410.5L187.3 1394.9Z" fill="#fff" stroke="#ffad73" stroke-width="5.00" stroke-linejoin="miter"/><path d="M226.6 1391.8L242.2 1407.4L226.6 1423.0L211.0 1407.4Z" fill="#fff" stroke="#ffad73" stroke-width="5.00" stroke-linejoin="miter"/><path d="M250.4 1404.3L266.0 1419.9L250.4 1435.5L234.8 1419.9Z" fill="#fff" stroke="#ffad73" stroke-width="5.00" stroke-linejoin="miter"/><path d="M297.8 1429.2L313.4 1444.8L297.8 1460.4L282.2 1444.8Z" fill="#fff" stroke="#ffad73" stroke-width="5.00" stroke-linejoin="miter"/><path d="M343.4 1491.7L359.0 1507.2L343.4 1522.8L327.8 1507.2Z" fill="#fff" stroke="#ffad73" stroke-width="5.00" stroke-linejoin="miter"/><path d="M389.0 1516.5L404.6 1532.1L389.0 1547.7L373.4 1532.1Z" fill="#fff" stroke="#ffad73" stroke-width="5.00" stroke-linejoin="miter"/><path d="M436.6 1529.0L452.2 1544.6L436.6 1560.2L421.0 1544.6Z" fill="#fff" stroke="#ffad73" stroke-width="5.00" stroke-linejoin="miter"/><path d="M484.2 1541.5L499.8 1557.0L484.2 1572.6L468.6 1557.0Z" fill="#fff" stroke="#ffad73" stroke-width="5.00" stroke-linejoin="miter"/><path d="M531.6 1578.8L547.2 1594.4L531.6 1610.0L516.0 1594.4Z" fill="#fff" stroke="#ffad73" stroke-width="5.00" stroke-linejoin="miter"/><path d="M579.1 1591.2L594.7 1606.8L579.1 1622.4L563.5 1606.8Z" fill="#fff" stroke="#ffad73" stroke-width="5.00" stroke-linejoin="miter"/><path d="M626.7 1641.0L642.3 1656.6L626.7 1672.2L611.1 1656.6Z" fill="#fff" stroke="#ffad73" stroke-width="5.00" stroke-linejoin="miter"/><path d="M674.2 1666.0L689.8 1681.5L674.2 1697.1L658.6 1681.5Z" fill="#fff" stroke="#ffad73" stroke-width="5.00" stroke-linejoin="miter"/></g>
<rect x="687.0" y="1797.6" width="630.5" height="297.8" fill="#fff" stroke="#111" stroke-width="4" filter="url(#lsh)"/>
<path d="M707.8 1822.2H780.3" stroke="#ff0000" stroke-width="2.6" fill="none"/>
<path d="M732.8 1811.0L755.2 1833.4M732.8 1833.4L755.2 1811.0" fill="none" stroke="#ff0000" stroke-width="3.2"/>
<text x="789.8" y="1836.0" class="lg" textLength="161.0" lengthAdjust="spacingAndGlyphs">AP25-PCM</text>
<path d="M707.8 1871.8H780.3" stroke="#00acc8" stroke-width="2.6" fill="none"/>
<rect x="733.7" y="1861.5" width="20.6" height="20.6" fill="#fff" stroke="#00acc8" stroke-width="3.4"/>
<text x="786.3" y="1885.6" class="lg" textLength="489.0" lengthAdjust="spacingAndGlyphs">1% hybrid composite-AP25-PCM</text>
<path d="M707.8 1921.8H780.3" stroke="#000000" stroke-width="2.6" fill="none"/>
<path d="M732.0 1921.8H756.0" fill="none" stroke="#000000" stroke-width="4.6"/><path d="M744.0 1909.8V1933.8" fill="none" stroke="#000000" stroke-width="5.6"/>
<text x="786.3" y="1935.6" class="lg" textLength="489.0" lengthAdjust="spacingAndGlyphs">2% hybrid composite-AP25-PCM</text>
<path d="M707.8 1971.6H780.3" stroke="#008a08" stroke-width="2.6" fill="none"/>
<path d="M744.0 1963.1L752.4 1981.4L735.6 1981.4Z" fill="#fff" stroke="#008a08" stroke-width="3.2" stroke-linejoin="miter"/><path d="M732.0 1981.4H756.0" stroke="#008a08" stroke-width="4.4" fill="none"/>
<text x="786.3" y="1985.4" class="lg" textLength="489.0" lengthAdjust="spacingAndGlyphs">5% hybrid composite-AP25-PCM</text>
<path d="M707.8 2021.4H780.3" stroke="#0000ff" stroke-width="2.6" fill="none"/>
<circle cx="744.0" cy="2021.4" r="10.30" fill="#fff" stroke="#0000ff" stroke-width="3.4"/>
<text x="786.3" y="2035.2" class="lg" textLength="489.0" lengthAdjust="spacingAndGlyphs">8% hybrid composite-AP25-PCM</text>
<path d="M707.8 2070.9H780.3" stroke="#ff9147" stroke-width="2.6" fill="none"/>
<path d="M744.0 2060.1L754.8 2070.9L744.0 2081.7L733.2 2070.9Z" fill="#fff" stroke="#ff9a55" stroke-width="2.6"/>
<text x="786.3" y="2084.7" class="lg" textLength="508.0" lengthAdjust="spacingAndGlyphs">10% hybrid composite-AP25-PCM</text>
<text x="677.2" y="2255.2" class="tt" textLength="181" lengthAdjust="spacingAndGlyphs">Time, min</text>
<text transform="translate(95.2 1683.7) rotate(-90)" text-anchor="middle" class="tt" textLength="318" lengthAdjust="spacingAndGlyphs">Tsolidification, °C</text>
<text x="30.0" y="1206.4" class="tag">(b)</text>
</g>
</g>
</svg>
</body></html>
